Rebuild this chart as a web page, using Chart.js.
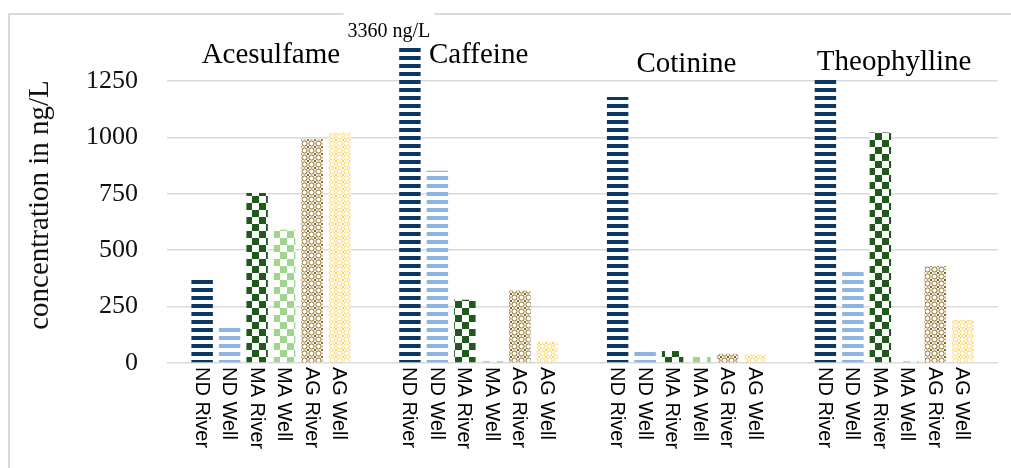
<!DOCTYPE html>
<html>
<head>
<meta charset="utf-8">
<script src="https://cdn.jsdelivr.net/npm/chart.js@4.4.1/dist/chart.umd.min.js"></script>
<style>
  html, body { margin: 0; padding: 0; background: #fff; }
  #chart { display: block; }
</style>
</head>
<body>
<canvas id="chart" width="1011" height="468"></canvas>
<script>
// ── Data ────────────────────────────────────────────────
const compounds = ['Acesulfame', 'Caffeine', 'Cotinine', 'Theophylline'];
const sites     = ['ND River', 'ND Well', 'MA River', 'MA Well', 'AG River', 'AG Well'];
const ndRiver   = [370, 3360, 1178, 1261];
const ndWell    = [160, 852, 53, 407];
const maRiver   = [753, 280, 53, 1021];
const maWell    = [590, 8, 27, 8];
const agRiver   = [991, 321, 41, 429];
const agWell    = [1020, 93, 37, 192];
const yTicks    = [0, 250, 500, 750, 1000, 1250];
const offScaleNote = '3360 ng/L';

// baseline of each compound name (px from top)
const nameBaseline = [63, 63, 72, 70];

// ── Fill patterns ───────────────────────────────────────
const canvas = document.getElementById('chart');
const ctx = canvas.getContext('2d');

function tile(w, h, draw) {
  const c = document.createElement('canvas');
  c.width = w; c.height = h;
  const g = c.getContext('2d');
  g.fillStyle = '#fff';
  g.fillRect(0, 0, w, h);
  draw(g);
  return ctx.createPattern(c, 'repeat');
}
const stripes = color => tile(8, 8, g => { g.fillStyle = color; g.fillRect(0, 0, 8, 4); });
const checker = color => tile(14, 14, g => {
  g.fillStyle = color;
  g.fillRect(0, 0, 7, 7);
  g.fillRect(7, 7, 7, 7);
});
const trellis = color => tile(7, 7, g => {
  g.strokeStyle = color; g.lineWidth = 1;
  g.beginPath(); g.arc(3.5, 3.5, 2.6, 0, Math.PI * 2); g.stroke();
  g.fillStyle = color;
  [[0, 0], [6, 0], [0, 6], [6, 6]].forEach(([x, y]) => g.fillRect(x, y, 1, 1));
});

const series = [ndRiver, ndWell, maRiver, maWell, agRiver, agWell];
const fills = [
  stripes('#0b3763'),
  stripes('#8db4e2'),
  checker('#1f5a1c'),
  checker('#9fd68e'),
  trellis('#8a6518'),
  trellis('#ffd45e'),
];

// ── Extra text: borders, compound names, bar labels ─────
const decor = {
  id: 'decor',
  beforeDraw(chart) {
    const c = chart.ctx;
    c.save();
    c.strokeStyle = '#d9d9d9';
    c.lineWidth = 2;
    c.beginPath();
    c.moveTo(9, 468); c.lineTo(9, 14); c.lineTo(1011, 14);
    c.stroke();
    c.restore();
  },
  afterDatasetsDraw(chart) {
    const c = chart.ctx;
    const x = chart.scales.x;
    const area = chart.chartArea;
    c.save();

    // compound names above each group
    c.fillStyle = '#000';
    c.font = '29px "Liberation Serif"';
    c.textAlign = 'center';
    c.textBaseline = 'alphabetic';
    compounds.forEach((name, i) => c.fillText(name, x.getPixelForValue(i), nameBaseline[i]));

    // site labels under every bar, rotated
    c.font = '20px "Liberation Sans"';
    c.textAlign = 'left';
    c.textBaseline = 'middle';
    chart.data.datasets.forEach((ds, di) => {
      chart.getDatasetMeta(di).data.forEach(bar => {
        c.save();
        c.translate(bar.x - 1, area.bottom + 4);
        c.rotate(Math.PI / 2);
        c.fillText(ds.label, 0, 0);
        c.restore();
      });
    });

    // note for the clipped caffeine bar
    const tall = chart.getDatasetMeta(0).data[1];
    c.font = '20px "Liberation Serif"';
    c.textAlign = 'center';
    c.textBaseline = 'alphabetic';
    const w = c.measureText(offScaleNote).width;
    const cx = tall.x - 21;
    c.fillStyle = '#fff';
    c.fillRect(cx - w / 2 - 4, 8, w + 8, 36);
    c.fillStyle = '#000';
    c.fillText(offScaleNote, cx, 37);
    c.restore();
  }
};

Chart.defaults.font.family = '"Liberation Serif"';

new Chart(canvas, {
  type: 'bar',
  data: {
    labels: compounds,
    datasets: sites.map((s, i) => ({
      label: s,
      data: series[i],
      backgroundColor: fills[i],
      borderWidth: 0,
      categoryPercentage: 0.794,
      barPercentage: 0.78,
    }))
  },
  options: {
    responsive: false,
    animation: false,
    layout: { padding: { top: 47, right: 13, bottom: 105, left: 0 } },
    plugins: { legend: { display: false }, tooltip: { enabled: false } },
    scales: {
      x: {
        afterFit: s => { s.height = 0; },
        grid: { display: false },
        border: { display: false },
        ticks: { display: false },
      },
      y: {
        min: 0,
        max: 1400,
        afterBuildTicks: s => { s.ticks = yTicks.map(v => ({ value: v })); },
        afterFit: s => { s.width = 167; },
        grid: { color: '#d9d9d9', lineWidth: 1.5, drawTicks: false },
        border: { display: false },
        ticks: {
          padding: 29,
          color: '#111',
          font: { size: 26, family: '"Liberation Serif"' },
          callback: v => String(v),
        },
        title: {
          display: true,
          text: 'concentration in ng/L',
          color: '#111',
          font: { size: 29, family: '"Liberation Serif"' },
          padding: { top: 23, bottom: 0 },
        },
      },
    },
  },
  plugins: [decor],
});
</script>
</body>
</html>
